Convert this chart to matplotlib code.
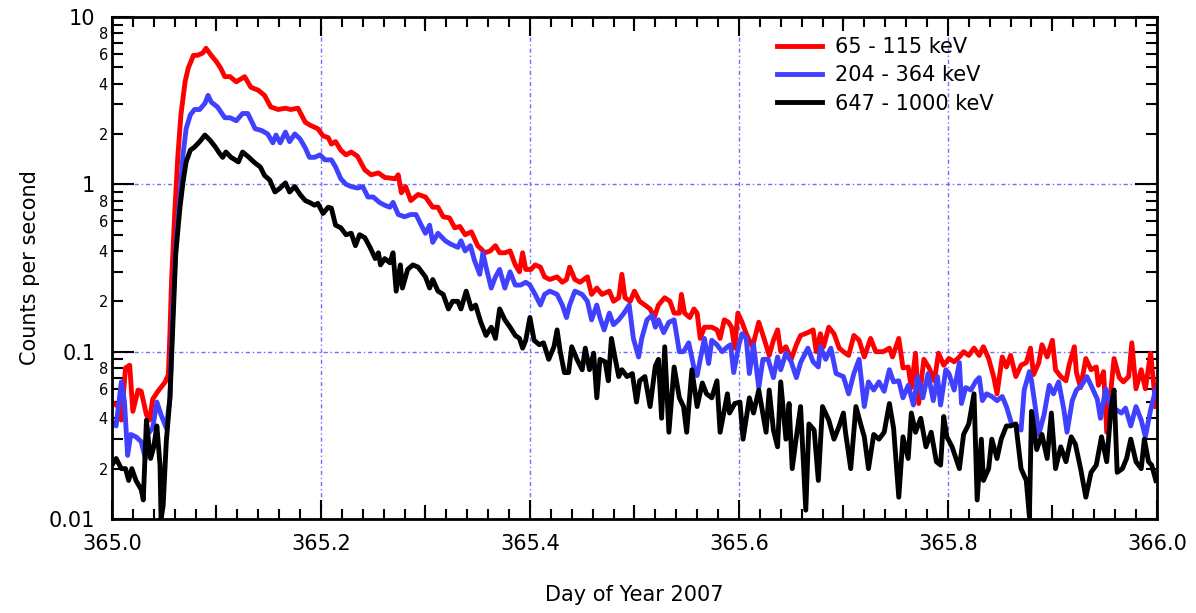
import numpy as np
import matplotlib
matplotlib.use("Agg")
import matplotlib.pyplot as plt
from matplotlib.ticker import FuncFormatter, LogLocator, MultipleLocator

# energy channels
channel_labels = ["65 - 115 keV", "204 - 364 keV", "647 - 1000 keV"]
channel_colors = ["#ff0000", "#4040ff", "#000000"]

# 65 - 115 keV
red_day = [
    365.000, 365.006, 365.009, 365.013, 365.017, 365.020, 365.025, 365.028, 365.033, 365.036,
    365.039, 365.044, 365.051, 365.054, 365.0555, 365.057, 365.060, 365.063, 365.066, 365.070,
    365.073, 365.078, 365.082, 365.087, 365.090, 365.095, 365.100, 365.104, 365.108, 365.113,
    365.119, 365.127, 365.133, 365.140, 365.146, 365.152, 365.159, 365.166, 365.171, 365.178,
    365.185, 365.190, 365.197, 365.202, 365.207, 365.210, 365.214, 365.219, 365.224, 365.229,
    365.235, 365.242, 365.248, 365.255, 365.261, 365.271, 365.274, 365.277, 365.281, 365.286,
    365.293, 365.300, 365.307, 365.312, 365.317, 365.323, 365.328, 365.333, 365.338, 365.344,
    365.350, 365.357, 365.362, 365.367, 365.371, 365.376, 365.381, 365.386, 365.390, 365.393,
    365.396, 365.401, 365.405, 365.410, 365.414, 365.419, 365.426, 365.431, 365.435, 365.438,
    365.443, 365.448, 365.455, 365.459, 365.464, 365.469, 365.476, 365.480, 365.485, 365.488,
    365.491, 365.496, 365.500, 365.505, 365.510, 365.515, 365.519, 365.523, 365.529, 365.534,
    365.538, 365.543, 365.545, 365.548, 365.553, 365.557, 365.560, 365.563, 365.567, 365.574,
    365.579, 365.582, 365.586, 365.590, 365.593, 365.596, 365.599, 365.603, 365.607, 365.613,
    365.619, 365.624, 365.629, 365.633, 365.637, 365.640, 365.645, 365.650, 365.655, 365.659,
    365.666, 365.671, 365.674, 365.678, 365.681, 365.686, 365.691, 365.696, 365.700, 365.705,
    365.710, 365.715, 365.720, 365.726, 365.731, 365.738, 365.744, 365.747, 365.753, 365.757,
    365.762, 365.765, 365.769, 365.772, 365.777, 365.782, 365.787, 365.791, 365.796, 365.801,
    365.806, 365.811, 365.815, 365.820, 365.825, 365.830, 365.834, 365.839, 365.844, 365.847,
    365.852, 365.856, 365.860, 365.865, 365.870, 365.875, 365.879, 365.882, 365.887, 365.890,
    365.895, 365.900, 365.903, 365.908, 365.913, 365.916, 365.921, 365.923, 365.927, 365.932,
    365.937, 365.942, 365.944, 365.949, 365.952, 365.959, 365.964, 365.968, 365.973, 365.976,
    365.980, 365.985, 365.989, 365.994, 365.999]
red_cps = [
    0.050, 0.047, 0.039, 0.080, 0.083, 0.044, 0.059, 0.058, 0.042, 0.039,
    0.052, 0.058, 0.066, 0.073, 0.13, 0.26, 0.66, 1.45, 2.6, 4.1,
    4.95, 5.9, 5.9, 6.1, 6.5, 5.9, 5.4, 4.95, 4.4, 4.4,
    4.1, 4.4, 3.8, 3.65, 3.4, 2.9, 2.8, 2.85, 2.8, 2.85,
    2.35, 2.25, 2.15, 1.95, 1.9, 1.74, 1.8, 1.6, 1.5, 1.56,
    1.47, 1.22, 1.14, 1.17, 1.1, 1.08, 1.14, 0.89, 0.97, 0.8,
    0.87, 0.84, 0.73, 0.73, 0.64, 0.63, 0.55, 0.56, 0.5, 0.52,
    0.43, 0.39, 0.4, 0.43, 0.39, 0.39, 0.4, 0.33, 0.3, 0.39,
    0.31, 0.31, 0.33, 0.32, 0.28, 0.27, 0.28, 0.26, 0.27, 0.32,
    0.27, 0.26, 0.28, 0.22, 0.24, 0.22, 0.23, 0.2, 0.21, 0.29,
    0.21, 0.2, 0.23, 0.2, 0.19, 0.18, 0.16, 0.19, 0.21, 0.2,
    0.17, 0.17, 0.22, 0.17, 0.16, 0.18, 0.17, 0.12, 0.14, 0.14,
    0.135, 0.12, 0.155, 0.15, 0.14, 0.105, 0.17, 0.15, 0.128, 0.107,
    0.15, 0.12, 0.095, 0.117, 0.135, 0.1, 0.107, 0.09, 0.11, 0.125,
    0.13, 0.135, 0.1, 0.128, 0.107, 0.14, 0.128, 0.105, 0.1, 0.095,
    0.125, 0.117, 0.093, 0.12, 0.1, 0.1, 0.105, 0.093, 0.12, 0.08,
    0.081, 0.061, 0.098, 0.049, 0.09, 0.08, 0.067, 0.098, 0.083, 0.091,
    0.087, 0.093, 0.1, 0.095, 0.105, 0.095, 0.107, 0.091, 0.07, 0.056,
    0.093, 0.081, 0.095, 0.071, 0.083, 0.086, 0.105, 0.073, 0.086, 0.11,
    0.093, 0.117, 0.078, 0.071, 0.067, 0.083, 0.107, 0.075, 0.061, 0.091,
    0.078, 0.081, 0.063, 0.076, 0.033, 0.091, 0.07, 0.066, 0.071, 0.113,
    0.06, 0.078, 0.06, 0.098, 0.047]

# 204 - 364 keV
blue_day = [
    365.000, 365.004, 365.009, 365.012, 365.015, 365.018, 365.023, 365.028, 365.032, 365.034,
    365.039, 365.043, 365.047, 365.052, 365.0555, 365.058, 365.061, 365.065, 365.068, 365.071,
    365.075, 365.079, 365.084, 365.089, 365.092, 365.095, 365.101, 365.108, 365.113, 365.119,
    365.125, 365.130, 365.137, 365.143, 365.149, 365.154, 365.157, 365.161, 365.166, 365.170,
    365.175, 365.180, 365.185, 365.189, 365.194, 365.199, 365.204, 365.210, 365.214, 365.219,
    365.224, 365.229, 365.235, 365.240, 365.245, 365.250, 365.256, 365.261, 365.266, 365.269,
    365.274, 365.280, 365.286, 365.291, 365.296, 365.300, 365.304, 365.307, 365.312, 365.319,
    365.324, 365.331, 365.334, 365.338, 365.343, 365.347, 365.352, 365.355, 365.358, 365.363,
    365.367, 365.371, 365.376, 365.381, 365.386, 365.391, 365.396, 365.400, 365.405, 365.410,
    365.414, 365.419, 365.426, 365.431, 365.435, 365.438, 365.443, 365.450, 365.455, 365.459,
    365.464, 365.467, 365.471, 365.476, 365.480, 365.485, 365.490, 365.495, 365.499, 365.504,
    365.507, 365.512, 365.517, 365.520, 365.523, 365.528, 365.533, 365.538, 365.543, 365.547,
    365.552, 365.557, 365.560, 365.563, 365.567, 365.571, 365.574, 365.579, 365.584, 365.589,
    365.592, 365.595, 365.600, 365.603, 365.607, 365.610, 365.614, 365.619, 365.623, 365.628,
    365.633, 365.637, 365.640, 365.645, 365.650, 365.655, 365.659, 365.666, 365.671, 365.676,
    365.678, 365.683, 365.688, 365.693, 365.700, 365.705, 365.710, 365.715, 365.720, 365.724,
    365.729, 365.734, 365.739, 365.744, 365.748, 365.753, 365.757, 365.762, 365.767, 365.771,
    365.776, 365.781, 365.786, 365.790, 365.793, 365.798, 365.801, 365.806, 365.811, 365.813,
    365.817, 365.822, 365.827, 365.830, 365.833, 365.837, 365.842, 365.847, 365.852, 365.856,
    365.861, 365.866, 365.870, 365.873, 365.878, 365.880, 365.884, 365.887, 365.892, 365.897,
    365.901, 365.906, 365.911, 365.914, 365.919, 365.923, 365.928, 365.933, 365.938, 365.943,
    365.946, 365.951, 365.956, 365.961, 365.966, 365.970, 365.975, 365.980, 365.985, 365.989,
    365.994, 365.999]
blue_cps = [
    0.038, 0.036, 0.066, 0.050, 0.024, 0.032, 0.031, 0.029, 0.023, 0.032,
    0.035, 0.050, 0.042, 0.035, 0.053, 0.165, 0.42, 0.83, 1.5, 2.15,
    2.6, 2.8, 2.8, 3.05, 3.4, 3.1, 2.9, 2.5, 2.5, 2.4,
    2.65, 2.65, 2.15, 2.1, 2.0, 1.77, 1.97, 1.77, 2.05, 1.8,
    2.0, 1.87, 1.65, 1.45, 1.45, 1.5, 1.4, 1.4, 1.27, 1.08,
    1.0, 0.97, 0.95, 0.97, 0.84, 0.84, 0.78, 0.75, 0.73, 0.78,
    0.66, 0.64, 0.66, 0.66, 0.57, 0.51, 0.57, 0.45, 0.51, 0.46,
    0.44, 0.42, 0.46, 0.40, 0.43, 0.35, 0.29, 0.39, 0.32, 0.24,
    0.28, 0.31, 0.24, 0.30, 0.25, 0.25, 0.26, 0.25, 0.22, 0.19,
    0.22, 0.23, 0.22, 0.19, 0.16, 0.19, 0.23, 0.22, 0.20, 0.155,
    0.19, 0.16, 0.135, 0.17, 0.145, 0.155, 0.17, 0.19, 0.12, 0.093,
    0.12, 0.155, 0.165, 0.14, 0.155, 0.13, 0.15, 0.155, 0.10, 0.10,
    0.113, 0.08, 0.072, 0.09, 0.12, 0.085, 0.117, 0.11, 0.10, 0.107,
    0.11, 0.075, 0.11, 0.128, 0.12, 0.074, 0.11, 0.061, 0.09, 0.09,
    0.07, 0.093, 0.078, 0.098, 0.087, 0.07, 0.086, 0.105, 0.087, 0.081,
    0.107, 0.09, 0.105, 0.074, 0.071, 0.056, 0.074, 0.09, 0.047, 0.066,
    0.059, 0.066, 0.058, 0.078, 0.066, 0.067, 0.053, 0.063, 0.048, 0.071,
    0.053, 0.074, 0.051, 0.071, 0.048, 0.078, 0.074, 0.059, 0.086, 0.049,
    0.061, 0.059, 0.067, 0.07, 0.051, 0.056, 0.054, 0.051, 0.054, 0.047,
    0.037, 0.036, 0.034, 0.059, 0.076, 0.067, 0.045, 0.032, 0.042, 0.063,
    0.056, 0.066, 0.045, 0.033, 0.051, 0.059, 0.063, 0.071, 0.061, 0.052,
    0.04, 0.06, 0.047, 0.045, 0.043, 0.046, 0.036, 0.047, 0.039, 0.031,
    0.045, 0.06]

# 647 - 1000 keV
black_day = [
    365.000, 365.004, 365.009, 365.013, 365.016, 365.019, 365.023, 365.028, 365.030, 365.033,
    365.035, 365.037, 365.040, 365.043, 365.046, 365.047, 365.049, 365.052, 365.0555, 365.058,
    365.061, 365.065, 365.068, 365.071, 365.075, 365.079, 365.084, 365.089, 365.094, 365.099,
    365.103, 365.106, 365.109, 365.114, 365.121, 365.125, 365.130, 365.137, 365.142, 365.146,
    365.151, 365.156, 365.161, 365.166, 365.170, 365.175, 365.180, 365.185, 365.189, 365.194,
    365.197, 365.202, 365.207, 365.210, 365.214, 365.219, 365.224, 365.229, 365.233, 365.237,
    365.242, 365.247, 365.252, 365.255, 365.257, 365.261, 365.266, 365.269, 365.272, 365.276,
    365.278, 365.283, 365.288, 365.293, 365.300, 365.304, 365.307, 365.312, 365.317, 365.322,
    365.326, 365.331, 365.334, 365.339, 365.344, 365.348, 365.353, 365.358, 365.363, 365.367,
    365.371, 365.376, 365.381, 365.386, 365.390, 365.393, 365.396, 365.400, 365.404, 365.409,
    365.413, 365.418, 365.423, 365.426, 365.429, 365.433, 365.437, 365.440, 365.445, 365.450,
    365.453, 365.457, 365.461, 365.464, 365.467, 365.472, 365.475, 365.478, 365.481, 365.485,
    365.488, 365.493, 365.498, 365.502, 365.505, 365.510, 365.515, 365.520, 365.523, 365.526,
    365.529, 365.533, 365.538, 365.543, 365.547, 365.550, 365.555, 365.560, 365.565, 365.569,
    365.574, 365.579, 365.582, 365.589, 365.591, 365.596, 365.601, 365.604, 365.610, 365.614,
    365.619, 365.626, 365.629, 365.633, 365.637, 365.640, 365.645, 365.648, 365.651, 365.655,
    365.659, 365.664, 365.667, 365.672, 365.676, 365.680, 365.686, 365.691, 365.696, 365.700,
    365.702, 365.707, 365.712, 365.717, 365.720, 365.724, 365.729, 365.734, 365.739, 365.744,
    365.748, 365.753, 365.757, 365.762, 365.765, 365.769, 365.774, 365.779, 365.784, 365.789,
    365.793, 365.796, 365.799, 365.804, 365.811, 365.815, 365.820, 365.825, 365.828, 365.832,
    365.834, 365.839, 365.842, 365.847, 365.851, 365.856, 365.860, 365.865, 365.870, 365.875,
    365.878, 365.880, 365.885, 365.890, 365.895, 365.899, 365.903, 365.908, 365.913, 365.918,
    365.922, 365.927, 365.932, 365.937, 365.942, 365.947, 365.952, 365.956, 365.959, 365.962,
    365.967, 365.971, 365.975, 365.980, 365.985, 365.988, 365.992, 365.995, 365.999]
black_cps = [
    0.021, 0.023, 0.020, 0.020, 0.017, 0.020, 0.017, 0.015, 0.013, 0.039,
    0.029, 0.023, 0.027, 0.036, 0.021, 0.010, 0.012, 0.029, 0.053, 0.13,
    0.38, 0.72, 1.03, 1.36, 1.6, 1.67, 1.8, 1.97, 1.83, 1.67,
    1.53, 1.45, 1.56, 1.45, 1.36, 1.56, 1.47, 1.34, 1.27, 1.13,
    1.06, 0.9, 0.95, 1.02, 0.9, 0.97, 0.87, 0.8, 0.78, 0.75,
    0.77, 0.67, 0.73, 0.72, 0.57, 0.55, 0.5, 0.51, 0.43, 0.5,
    0.48, 0.42, 0.36, 0.39, 0.33, 0.36, 0.34, 0.39, 0.23, 0.33,
    0.24, 0.31, 0.33, 0.32, 0.28, 0.24, 0.27, 0.23, 0.22, 0.18,
    0.2, 0.2, 0.18, 0.23, 0.18, 0.19, 0.15, 0.125, 0.14, 0.12,
    0.18, 0.155, 0.14, 0.125, 0.12, 0.105, 0.117, 0.16, 0.117, 0.11,
    0.113, 0.09, 0.107, 0.135, 0.1, 0.075, 0.075, 0.107, 0.09, 0.078,
    0.105, 0.078, 0.098, 0.053, 0.09, 0.087, 0.067, 0.12, 0.095, 0.071,
    0.078, 0.071, 0.074, 0.05, 0.067, 0.071, 0.047, 0.082, 0.09, 0.04,
    0.107, 0.033, 0.081, 0.053, 0.047, 0.033, 0.078, 0.047, 0.065, 0.056,
    0.053, 0.067, 0.033, 0.056, 0.043, 0.049, 0.05, 0.03, 0.053, 0.043,
    0.059, 0.033, 0.059, 0.034, 0.027, 0.066, 0.03, 0.049, 0.02, 0.031,
    0.047, 0.0113, 0.037, 0.034, 0.017, 0.047, 0.039, 0.03, 0.036, 0.043,
    0.033, 0.02, 0.047, 0.036, 0.031, 0.02, 0.032, 0.03, 0.033, 0.049,
    0.035, 0.0135, 0.031, 0.023, 0.043, 0.033, 0.04, 0.027, 0.033, 0.022,
    0.021, 0.041, 0.031, 0.027, 0.02, 0.032, 0.037, 0.056, 0.013, 0.03,
    0.017, 0.02, 0.03, 0.023, 0.03, 0.036, 0.036, 0.037, 0.02, 0.017,
    0.0103, 0.044, 0.026, 0.032, 0.023, 0.043, 0.02, 0.027, 0.022, 0.031,
    0.028, 0.02, 0.0135, 0.019, 0.021, 0.031, 0.022, 0.045, 0.059, 0.019,
    0.02, 0.023, 0.03, 0.022, 0.02, 0.03, 0.022, 0.021, 0.017]

fig = plt.figure(figsize=(11.96, 6.13), dpi=100)
ax = fig.add_axes([0.0936, 0.1533, 0.8737, 0.8190])

series = [(red_day, red_cps), (blue_day, blue_cps), (black_day, black_cps)]
for (day, cps), lab, col in zip(series, channel_labels, channel_colors):
    ax.plot(day, cps, color=col, lw=3.5, label=lab, solid_joinstyle="round")

ax.set_yscale("log")
ax.set_xlim(365.0, 366.0)
ax.set_ylim(0.01, 10)

# x ticks: labels every 0.2, small ticks every 0.02
ax.xaxis.set_major_locator(MultipleLocator(0.2))
ax.xaxis.set_minor_locator(MultipleLocator(0.02))
ax.xaxis.set_major_formatter(FuncFormatter(lambda v, p: "%.1f" % v))

# y ticks: decades plus 2..9 minor ticks, labels 2,4,6,8
ax.yaxis.set_major_locator(LogLocator(base=10, numticks=10))
ax.yaxis.set_minor_locator(LogLocator(base=10, subs=np.arange(2, 10), numticks=20))
ax.yaxis.set_major_formatter(FuncFormatter(lambda v, p: "%g" % v))


def minor_label(v, p):
    m = int(round(v / 10 ** np.floor(np.log10(v) + 1e-9)))
    return str(m) if m in (2, 4, 6, 8) else ""


ax.yaxis.set_minor_formatter(FuncFormatter(minor_label))

ax.tick_params(which="both", direction="in", top=True, right=True, width=1.5, color="black")
ax.tick_params(axis="x", which="major", length=14, labelsize=15, pad=11)
ax.tick_params(axis="x", which="minor", length=7)
ax.tick_params(axis="y", which="major", length=16, labelsize=15, pad=12)
ax.tick_params(axis="y", which="minor", length=8, labelsize=10.5, pad=3)

# medium ticks at the odd tenths
for loc in ("bottom", "top"):
    sec = ax.secondary_xaxis(loc)
    sec.set_xticks([365.1, 365.3, 365.5, 365.7, 365.9])
    sec.tick_params(direction="in", length=10, width=1.5,
                    labelbottom=False, labeltop=False)
    for s in sec.spines.values():
        s.set_visible(False)

for s in ax.spines.values():
    s.set_linewidth(2)

ax.grid(which="major", color="#7070ff", lw=1, linestyle=(0, (3, 2, 1, 2)))
ax.set_axisbelow(True)

ax.legend(loc="upper left", bbox_to_anchor=(0.636, 0.960), frameon=False, fontsize=15,
          handlelength=2.2, handletextpad=0.6, labelspacing=0.4,
          borderaxespad=0, borderpad=0)

fig.text(30 / 1196, 1 - 268 / 613, "Counts per second", rotation=90,
         ha="center", va="center", fontsize=15)
fig.text(634 / 1196, 1 - 595 / 613, "Day of Year 2007",
         ha="center", va="center", fontsize=15)

fig.savefig("out.png", dpi=100)
